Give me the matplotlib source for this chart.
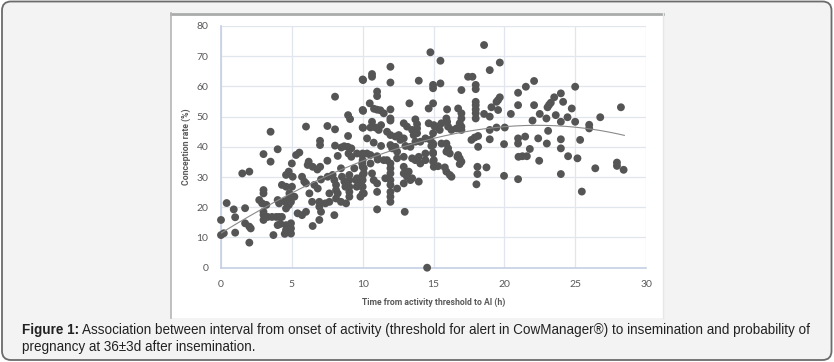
import numpy as np
import matplotlib
matplotlib.use("Agg")
import matplotlib.pyplot as plt
from matplotlib.patches import FancyBboxPatch, Rectangle

# hours from activity threshold to AI, conception rate (%)
hours_0_5 = [0.0, 0.0, 0.2, 0.4, 0.9, 1.0, 1.0, 1.5, 1.7, 2.0, 1.7, 2.0, 2.1, 2.0,
             2.7, 2.9, 3.2, 3.0, 3.0, 3.0, 3.5, 4.0, 3.5, 3.0, 3.0, 3.3, 3.6, 3.9,
             4.1, 4.3, 3.0, 4.0, 4.2, 4.6, 3.7, 4.5, 4.0, 4.1, 4.5, 4.7, 4.8, 4.3, 4.6]
rate_0_5 = [15.8, 10.8, 11.4, 21.4, 19.3, 16.7, 11.6, 31.2, 19.7, 31.8, 14.7, 13.6, 13.0, 8.3,
            22.4, 21.3, 20.8, 25.7, 24.6, 37.6, 45.0, 39.2, 35.1, 18.5, 17.5, 16.8, 16.8, 16.8,
            16.8, 16.8, 15.8, 14.1, 14.5, 14.1, 10.8, 11.2, 22.4, 21.3, 22.0, 21.0, 23.0, 27.4, 26.8]

hours_5_10 = [4.59, 4.78, 5.06, 5.72, 5.88, 6.0, 6.19, 6.12, 6.59, 6.83, 7.06, 7.53, 7.88, 8.0,
              8.12, 8.12, 8.24, 8.12, 8.47, 8.54, 8.71, 8.78, 9.06, 9.06, 9.06, 9.06, 9.06,
              9.41, 9.53, 9.58, 10.0, 10.0, 10.0, 10.0, 10.0, 10.0, 10.0, 5.01, 4.83, 5.18,
              4.94, 4.59, 4.78, 4.59, 5.41, 5.72, 6.0, 6.24, 6.43, 6.94, 6.94, 7.06, 7.37,
              7.65, 7.65, 8.0, 8.47, 8.83, 6.94, 6.47, 4.94, 4.94, 4.94, 4.59,
              10.0, 8.05, 8.97, 9.11, 10.0, 6.0, 7.51, 8.05, 8.97, 10.0, 6.99, 6.99, 8.05,
              8.5, 8.7, 8.95, 9.2, 5.53, 5.3, 5.0, 8.24, 9.0, 9.2, 6.47, 6.8, 7.0, 7.51]
rate_5_10 = [30.7, 31.8, 30.1, 30.1, 28.5, 27.9, 35.1, 34.0, 27.4, 26.2, 29.2, 30.1, 30.7, 29.0,
             27.4, 25.7, 24.6, 22.9, 32.9, 30.1, 28.5, 26.8, 30.7, 29.0, 26.8, 25.1, 23.5,
             32.9, 29.0, 26.8, 37.8, 35.6, 33.4, 30.7, 29.0, 26.8, 24.6, 26.8, 24.6, 23.5,
             21.8, 21.8, 20.7, 19.6, 18.0, 17.4, 18.5, 24.6, 21.8, 21.8, 20.2, 18.5, 21.3,
             21.8, 24.6, 17.4, 21.8, 21.3, 15.8, 13.8, 14.7, 13.0, 11.3, 12.5,
             62.3, 56.6, 50.5, 49.2, 52.2, 46.7, 46.9, 45.8, 43.6, 46.4, 42.0, 40.6, 40.4,
             39.8, 40.2, 40.0, 39.5, 38.1, 37.3, 34.5, 37.0, 37.8, 36.7, 33.4, 32.5, 33.4, 35.4]

hours_10_15 = [14.78, 11.96, 10.03, 10.66, 10.66, 11.96, 13.96, 14.97, 14.97, 11.02, 11.02,
               10.03, 10.5, 10.8, 11.02, 11.25, 11.49, 11.96, 11.96, 11.96, 13.3, 14.66, 14.97,
               10.66, 10.03, 10.55, 10.9, 11.3, 11.13, 12.9, 13.13, 13.72, 13.84, 13.84, 13.84,
               13.49, 13.6, 14.66, 15.02, 14.97,
               10.31, 10.78, 11.3, 11.72, 11.96, 12.31, 12.55, 12.66, 12.9, 11.96, 12.08, 12.31,
               12.43, 13.02, 13.37, 13.72, 14.07, 14.43, 14.78, 14.97,
               9.6, 9.96, 10.31, 10.55, 11.02, 11.06, 9.96, 10.08, 10.08, 10.55, 10.66, 10.78,
               11.49, 11.72, 11.96, 11.96, 11.96, 11.96, 11.84, 11.6,
               12.43, 12.9, 12.9, 12.9, 13.25, 13.49, 13.72, 13.96, 14.07, 14.43, 14.43, 14.97,
               15.02, 15.02,
               9.6, 9.84, 9.96, 10.08, 9.84, 11.02, 11.02, 11.96, 11.96, 11.96, 11.96, 12.43,
               12.9, 13.13, 13.37, 13.49, 13.96, 11.02, 12.97, 14.55]
rate_10_15 = [71.3, 66.5, 62.1, 64.1, 63.2, 61.3, 61.9, 60.5, 59.4, 58.3, 56.8,
              51.9, 54.4, 52.6, 52.3, 52.1, 51.1, 52.4, 49.4, 48.7, 54.4, 52.7, 54.4,
              48.3, 46.3, 46.4, 46.4, 47.2, 45.6, 47.8, 46.7, 49.1, 47.5, 46.1, 44.5,
              45.6, 43.9, 47.8, 47.2, 44.5,
              42.8, 41.4, 40.3, 45.0, 43.9, 43.4, 43.9, 42.3, 42.8, 40.6, 39.5, 40.0,
              38.4, 40.3, 40.0, 41.7, 41.7, 42.8, 42.3, 40.6,
              37.8, 37.3, 37.8, 37.3, 36.9, 35.8, 34.5, 31.2, 32.9, 34.5, 31.2, 29.0,
              35.6, 35.6, 34.5, 32.9, 31.2, 29.0, 29.6, 29.6,
              36.2, 36.7, 33.4, 31.2, 31.8, 36.2, 35.6, 36.7, 34.5, 35.6, 37.8, 37.8,
              35.6, 33.4,
              29.6, 27.9, 26.8, 24.6, 23.5, 27.9, 25.1, 27.4, 25.1, 23.5, 21.8, 26.2,
              27.9, 30.1, 29.0, 29.6, 28.5, 19.3, 18.5, 0.0]

hours_15_20 = [18.57, 15.49, 18.97, 19.68, 17.44, 17.75, 15.49, 16.97, 17.98, 17.98, 19.68,
               19.56, 19.45, 15.96, 16.74, 17.98, 17.98, 17.98, 17.98, 17.98, 18.57, 18.97,
               19.09, 19.56, 16.97, 16.97, 16.85, 16.97, 16.97, 15.91, 15.96, 15.56, 15.32,
               15.09, 15.44, 16.03, 16.27, 16.62, 17.68, 17.91, 18.15, 18.97, 18.97, 19.45,
               20.03, 14.97, 14.85, 14.97, 15.56, 15.91, 16.03, 15.91, 16.15, 14.97, 15.32,
               15.8, 15.91, 16.15, 16.27, 16.74, 16.85, 16.97, 16.85, 16.69, 18.15, 18.1,
               18.1, 18.03, 18.74, 19.98, 19.98]
rate_15_20 = [73.7, 68.5, 65.4, 67.9, 63.2, 63.2, 61.0, 58.8, 60.5, 59.1, 56.4,
              55.5, 54.9, 52.4, 52.7, 54.9, 53.8, 52.4, 51.1, 49.4, 50.9, 50.0,
              53.1, 52.2, 51.1, 49.4, 47.8, 46.7, 45.6, 49.4, 48.3, 47.8, 46.7,
              46.7, 45.6, 46.7, 45.6, 46.1, 42.3, 43.1, 43.6, 45.6, 42.5, 46.4,
              46.4, 41.1, 40.3, 38.1, 41.1, 41.1, 39.5, 38.4, 37.8, 35.1, 33.6,
              33.2, 31.8, 30.7, 30.1, 37.3, 36.2, 35.1, 34.3, 36.7, 40.0, 33.4,
              31.0, 27.6, 33.2, 40.9, 30.4]

hours_20_30 = [22.1, 21.52, 20.97, 25.0, 23.99, 23.52, 23.28, 23.16, 23.05, 24.15, 24.76,
               20.97, 22.1, 20.46, 22.5, 21.99, 22.97, 23.63, 23.99, 24.46, 25.0, 23.09,
               20.97, 20.97, 21.47, 22.39, 23.0, 23.99, 23.99, 21.8, 21.0, 21.28, 21.59,
               22.46, 24.5, 25.16, 20.97, 23.99,
               28.23, 26.77, 25.99, 25.99, 25.35, 26.42, 27.95, 27.95, 28.42, 25.47]
rate_20_30 = [61.8, 59.9, 57.9, 59.9, 57.7, 56.4, 54.6, 53.9, 53.1, 54.9, 52.7,
              53.8, 53.8, 50.9, 50.9, 48.7, 49.4, 50.5, 48.3, 49.8, 48.3, 45.3,
              42.8, 41.1, 43.4, 42.8, 41.1, 42.5, 39.5, 39.3, 36.7, 36.9, 36.9,
              35.4, 36.9, 36.2, 29.3, 31.0,
              53.1, 49.8, 47.3, 46.1, 42.3, 32.9, 34.8, 33.7, 32.4, 25.2]

# points
trend_x = [0.0, 4.6, 9.7, 14.6, 17.7, 20.0, 24.65, 28.47]
trend_y = [11.4, 24.0, 34.2, 42.8, 45.6, 46.4, 46.5, 43.9]

x_ticks = [0, 5, 10, 15, 20, 25, 30]
y_ticks = [0, 10, 20, 30, 40, 50, 60, 70, 80]

caption_bold = "Figure 1:"
caption_line1 = (" Association between interval from onset of activity (threshold for alert in "
                 "CowManager\u00ae) to insemination and probability of")
caption_line2 = "pregnancy at 36\u00b13d after insemination."

hours = np.array(hours_0_5 + hours_5_10 + hours_10_15 + hours_15_20 + hours_20_30)
rate = np.array(rate_0_5 + rate_5_10 + rate_10_15 + rate_15_20 + rate_20_30)

W, H = 834, 362
fig = plt.figure(figsize=(W / 100, H / 100), dpi=100)
fig.patch.set_facecolor("white")

# background layer in pixel coordinates
bg = fig.add_axes([0, 0, 1, 1])
bg.set_xlim(0, W)
bg.set_ylim(H, 0)
bg.axis("off")
bg.add_patch(FancyBboxPatch((2, 1.5), W - 4.5, H - 3.5,
                            boxstyle="round,pad=0,rounding_size=9",
                            facecolor="#f2f3f2", edgecolor="#6b6b6b", lw=1.3))
bg.add_patch(Rectangle((171, 13), 492, 305, facecolor="white", edgecolor="none"))
bg.plot([171, 663], [13.5, 13.5], color="#a9abab", lw=2)
bg.plot([171.5, 171.5], [13, 318], color="#b4b6b6", lw=1.2)
bg.plot([663, 663], [13, 318], color="#e6e8e8", lw=1)

ax = fig.add_axes([221 / W, 1 - 267.7 / H, (646 - 221) / W, (267.7 - 26) / H])
ax.set_facecolor("white")
ax.set_xlim(0, 30)
ax.set_ylim(0, 80)
ax.set_xticks(x_ticks)
ax.set_yticks(y_ticks)
ax.grid(True, color="#e1e5ee", lw=0.9)
ax.set_axisbelow(True)
for side in ("top", "right"):
    ax.spines[side].set_visible(False)
for side in ("left", "bottom"):
    ax.spines[side].set_color("#c5d0e4")
    ax.spines[side].set_linewidth(1.2)
ax.tick_params(length=0, labelsize=7.5, labelcolor="#595959", pad=9)
ax.tick_params(axis="x", pad=9)
for lab in ax.get_xticklabels() + ax.get_yticklabels():
    lab.set_family("Lato")

ax.scatter(hours, rate, s=32, color="#555555", edgecolors="none", zorder=3, clip_on=False)

coef = np.polyfit(trend_x, trend_y, 3)
xx = np.linspace(trend_x[0], trend_x[-1], 200)
ax.plot(xx, np.polyval(coef, xx), color="#8a8a8a", lw=0.8, zorder=4)

ax.set_xlabel("Time from activity threshold to AI (h)", fontsize=6.2, fontweight="bold",
              color="#595959", family="Roboto", labelpad=6)
ax.set_ylabel("Conception rate (%)", fontsize=6.2, fontweight="bold",
              color="#595959", family="Roboto", labelpad=4)

# caption, sized so the first line runs from x=22 to x=814 as in the reference
cap_font = ["Liberation Sans", "DejaVu Sans"]
renderer = fig.canvas.get_renderer()
t_bold = fig.text(22 / W, 1 - 330 / H, caption_bold, fontsize=10, fontweight="bold",
                  family=cap_font, va="center", ha="left", color="#222222")
t_one = fig.text(0, 1 - 330 / H, caption_line1, fontsize=10,
                 family=cap_font, va="center", ha="left", color="#222222")
w_total = t_bold.get_window_extent(renderer).width + t_one.get_window_extent(renderer).width
size = 10 * (814 - 22) / w_total
t_bold.set_fontsize(size)
t_one.set_fontsize(size)
x_after = t_bold.get_window_extent(renderer).x1
t_one.set_x(x_after / W)
fig.text(22 / W, 1 - 347 / H, caption_line2, fontsize=size,
         family=cap_font, va="center", ha="left", color="#222222")

fig.savefig("out.png", dpi=100, facecolor=fig.get_facecolor())
